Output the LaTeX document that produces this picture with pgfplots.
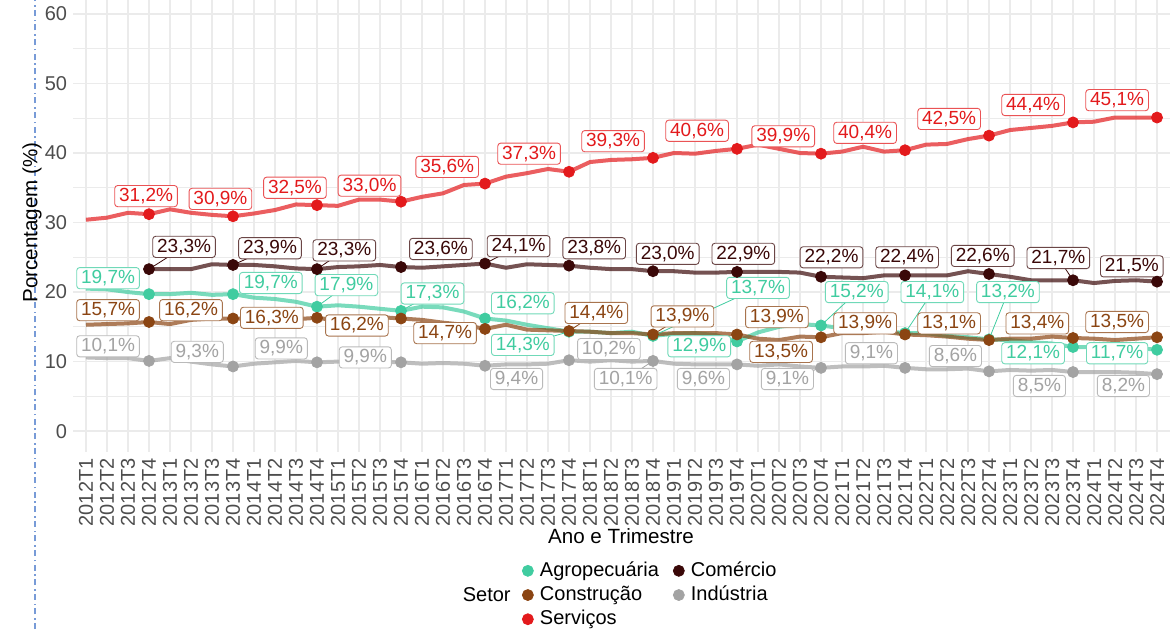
\documentclass[border=0pt]{standalone}
\usepackage{fontspec}
\setmainfont{Liberation Sans}
\usepackage{pgfplots}
\pgfplotsset{compat=1.18}

\definecolor{agro}{RGB}{64,204,160}
\definecolor{comercio}{RGB}{58,8,8}
\definecolor{construcao}{RGB}{139,69,19}
\definecolor{industria}{RGB}{163,163,163}
\definecolor{servicos}{RGB}{227,26,28}
\definecolor{gridc}{RGB}{235,235,235}
\definecolor{tickc}{RGB}{77,77,77}
\definecolor{blueline}{RGB}{120,155,215}

\tikzset{lab/.style={draw=#1!75, fill=white, text=#1, rounded corners=1.5pt,
  line width=0.45pt, inner xsep=2.2pt, inner ysep=1pt, text height=7pt, text depth=1.6pt,
  font=\fontsize{9.5}{10}\selectfont}}
\newcommand{\lab}[4]{\node[lab=#1] at (axis cs:#2,#3) {#4\%};}
\newcommand{\seg}[5]{\draw[#1, line width=0.4pt] (axis cs:#2,#3) -- (axis cs:#4,#5);}

\begin{document}
\begin{tikzpicture}
\useasboundingbox (-36.7pt,-88.5pt) rectangle (548.3pt,226pt);
\draw[blueline, line width=1pt, dash pattern=on 3pt off 1.6pt on 0.8pt off 1.9pt] (-19.2pt,-88.5pt) -- (-19.2pt,226pt);
\begin{axis}[
  at={(0pt,0pt)}, anchor=south west, scale only axis,
  width=548.1pt, height=226pt,
  xmin=-0.6, xmax=51.6, ymin=-3, ymax=62,
  clip=false,
  axis line style={draw=none},
  major tick length=0pt, minor tick length=0pt,
  xtick={0,...,51},
  xticklabels={2012T1,2012T2,2012T3,2012T4,2013T1,2013T2,2013T3,2013T4,
    2014T1,2014T2,2014T3,2014T4,2015T1,2015T2,2015T3,2015T4,
    2016T1,2016T2,2016T3,2016T4,2017T1,2017T2,2017T3,2017T4,
    2018T1,2018T2,2018T3,2018T4,2019T1,2019T2,2019T3,2019T4,
    2020T1,2020T2,2020T3,2020T4,2021T1,2021T2,2021T3,2021T4,
    2022T1,2022T2,2022T3,2022T4,2023T1,2023T2,2023T3,2023T4,
    2024T1,2024T2,2024T3,2024T4},
  ytick={0,10,...,60},
  minor ytick={5,15,...,55},
  xmajorgrids, ymajorgrids, yminorgrids,
  major grid style={gridc, line width=0.7pt},
  minor grid style={gridc, line width=0.45pt},
  /pgf/number format/assume math mode=true,
  xticklabel style={yshift=-3pt, rotate=90, anchor=east, inner sep=0pt, text depth=0pt,
    text=tickc, font=\fontsize{10}{12}\selectfont},
  yticklabel style={xshift=-3pt, anchor=east, inner sep=0pt,
    text=tickc, font=\fontsize{10}{12}\selectfont},
  legend columns=2,
  legend cell align=left,
  legend image code/.code={\draw[mark repeat=2,mark phase=2,#1] plot coordinates {(-3pt,0pt) (0pt,0pt) (3pt,0pt)};},
  legend style={at={(0.4092,-0.3164)}, anchor=west, draw=none, fill=none,
    inner sep=0pt, row sep=2.6pt, font=\fontsize{10}{12}\selectfont,
    nodes={inner xsep=3.3pt, inner ysep=0pt, text height=7.4pt, text depth=2.1pt},
    /tikz/every even column/.append style={column sep=3.9pt}},
]
% lines
\addplot[forget plot, agro, line width=2pt, opacity=0.7] coordinates {
(0,20.5)(1,20.4)(2,20.0)(3,19.7)(4,19.7)(5,19.9)(6,19.6)(7,19.7)(8,19.2)(9,19.0)(10,18.6)(11,17.9)
(12,18.1)(13,17.9)(14,17.6)(15,17.3)(16,17.9)(17,17.8)(18,17.2)(19,16.2)(20,15.9)(21,15.3)(22,14.8)(23,14.3)
(24,14.3)(25,14.1)(26,14.3)(27,13.7)(28,14.0)(29,14.1)(30,13.8)(31,12.9)(32,14.2)(33,15.0)(34,15.4)(35,15.2)
(36,14.8)(37,14.5)(38,14.4)(39,14.1)(40,14.1)(41,13.7)(42,13.5)(43,13.2)(44,13.1)(45,12.8)(46,12.6)(47,12.1)
(48,12.1)(49,12.2)(50,12.0)(51,11.7)};
\addplot[forget plot, comercio, line width=2pt, opacity=0.7] coordinates {
(3,23.3)(4,23.3)(5,23.3)(6,24.0)(7,23.9)(8,23.9)(9,23.7)(10,23.4)(11,23.3)
(12,23.6)(13,23.7)(14,23.9)(15,23.6)(16,23.5)(17,23.7)(18,23.9)(19,24.1)(20,23.5)(21,24.0)(22,23.9)(23,23.8)
(24,23.5)(25,23.3)(26,23.3)(27,23.0)(28,23.0)(29,22.8)(30,22.8)(31,22.9)(32,22.9)(33,22.9)(34,22.8)(35,22.2)
(36,22.1)(37,22.0)(38,22.4)(39,22.4)(40,22.4)(41,22.4)(42,23.0)(43,22.6)(44,22.2)(45,21.7)(46,21.7)(47,21.7)
(48,21.3)(49,21.6)(50,21.7)(51,21.5)};
\addplot[forget plot, construcao, line width=2pt, opacity=0.7] coordinates {
(0,15.3)(1,15.4)(2,15.5)(3,15.7)(4,15.4)(5,16.0)(6,16.2)(7,16.2)(8,16.1)(9,16.1)(10,16.1)(11,16.3)
(12,15.9)(13,16.2)(14,16.4)(15,16.2)(16,16.0)(17,15.6)(18,15.3)(19,14.7)(20,15.3)(21,14.6)(22,14.5)(23,14.4)
(24,14.3)(25,14.1)(26,14.1)(27,13.9)(28,14.1)(29,14.1)(30,14.1)(31,13.9)(32,13.3)(33,13.1)(34,13.6)(35,13.5)
(36,14.1)(37,14.1)(38,14.3)(39,13.9)(40,13.8)(41,13.6)(42,13.3)(43,13.1)(44,13.3)(45,13.3)(46,13.6)(47,13.4)
(48,13.3)(49,13.1)(50,13.3)(51,13.5)};
\addplot[forget plot, industria, line width=2pt, opacity=0.7] coordinates {
(0,10.6)(1,10.5)(2,10.5)(3,10.1)(4,10.5)(5,10.0)(6,9.6)(7,9.3)(8,9.7)(9,9.9)(10,10.1)(11,9.9)
(12,10.0)(13,9.9)(14,10.0)(15,9.9)(16,9.7)(17,9.8)(18,9.7)(19,9.4)(20,9.6)(21,9.6)(22,9.7)(23,10.2)
(24,10.0)(25,10.2)(26,10.0)(27,10.1)(28,9.7)(29,9.6)(30,9.6)(31,9.6)(32,9.4)(33,9.6)(34,9.3)(35,9.1)
(36,9.3)(37,9.3)(38,9.4)(39,9.1)(40,8.9)(41,8.9)(42,9.0)(43,8.6)(44,8.8)(45,8.7)(46,8.8)(47,8.5)
(48,8.5)(49,8.5)(50,8.4)(51,8.2)};
\addplot[forget plot, servicos, line width=2pt, opacity=0.7] coordinates {
(0,30.4)(1,30.7)(2,31.4)(3,31.2)(4,31.9)(5,31.4)(6,31.1)(7,30.9)(8,31.3)(9,31.8)(10,32.6)(11,32.5)
(12,32.4)(13,33.3)(14,33.3)(15,33.0)(16,33.7)(17,34.2)(18,35.4)(19,35.6)(20,36.6)(21,37.1)(22,37.7)(23,37.3)
(24,38.7)(25,39.0)(26,39.1)(27,39.3)(28,40.0)(29,39.9)(30,40.3)(31,40.6)(32,41.2)(33,40.6)(34,40.0)(35,39.9)
(36,40.2)(37,40.9)(38,40.2)(39,40.4)(40,41.2)(41,41.3)(42,42.0)(43,42.5)(44,43.3)(45,43.6)(46,43.9)(47,44.4)
(48,44.5)(49,45.1)(50,45.1)(51,45.1)};
% fourth-quarter points
\addplot[only marks, mark=*, mark size=2.75pt, agro] coordinates {
(3,19.7)(7,19.7)(11,17.9)(15,17.3)(19,16.2)(23,14.3)(27,13.7)(31,12.9)(35,15.2)(39,14.1)(43,13.2)(47,12.1)(51,11.7)};
\addlegendentry{Agropecuária}
\addplot[only marks, mark=*, mark size=2.75pt, comercio] coordinates {
(3,23.3)(7,23.9)(11,23.3)(15,23.6)(19,24.1)(23,23.8)(27,23.0)(31,22.9)(35,22.2)(39,22.4)(43,22.6)(47,21.7)(51,21.5)};
\addlegendentry{Comércio}
\addplot[only marks, mark=*, mark size=2.75pt, construcao] coordinates {
(3,15.7)(7,16.2)(11,16.3)(15,16.2)(19,14.7)(23,14.4)(27,13.9)(31,13.9)(35,13.5)(39,13.9)(43,13.1)(47,13.4)(51,13.5)};
\addlegendentry{Construção}
\addplot[only marks, mark=*, mark size=2.75pt, industria] coordinates {
(3,10.1)(7,9.3)(11,9.9)(15,9.9)(19,9.4)(23,10.2)(27,10.1)(31,9.6)(35,9.1)(39,9.1)(43,8.6)(47,8.5)(51,8.2)};
\addlegendentry{Indústria}
\addplot[only marks, mark=*, mark size=2.75pt, servicos] coordinates {
(3,31.2)(7,30.9)(11,32.5)(15,33.0)(19,35.6)(23,37.3)(27,39.3)(31,40.6)(35,39.9)(39,40.4)(43,42.5)(47,44.4)(51,45.1)};
\addlegendentry{Serviços}
% connectors
\seg{comercio}{3}{23.3}{4.67}{26.5}
\seg{comercio}{7}{23.9}{8.76}{26.3}
\seg{comercio}{11}{23.3}{12.3}{26.0}
\seg{comercio}{19}{24.1}{20.6}{26.6}
\seg{comercio}{47}{21.7}{46.3}{24.9}
\seg{agro}{11}{17.9}{12.4}{21.0}
\seg{agro}{15}{17.3}{16.5}{19.8}
\seg{agro}{23}{14.3}{20.8}{12.4}
\seg{agro}{27}{13.7}{32.0}{20.6}
\seg{agro}{35}{15.2}{36.7}{20.0}
\seg{agro}{39}{14.1}{40.3}{20.0}
\seg{agro}{43}{13.2}{43.9}{20.0}
\seg{construcao}{23}{14.4}{24.3}{17.0}
\seg{construcao}{27}{13.9}{28.4}{16.5}
\seg{industria}{27}{10.1}{25.7}{7.5}
\seg{industria}{35}{9.1}{33.4}{7.5}
% labels
\lab{agro}{1.05}{22.0}{19,7}
\lab{agro}{8.8}{21.3}{19,7}
\lab{agro}{12.4}{21.0}{17,9}
\lab{agro}{16.5}{19.8}{17,3}
\lab{agro}{20.8}{18.4}{16,2}
\lab{agro}{20.8}{12.4}{14,3}
\lab{agro}{32.0}{20.6}{13,7}
\lab{agro}{29.2}{12.2}{12,9}
\lab{agro}{36.7}{20.0}{15,2}
\lab{agro}{40.3}{20.0}{14,1}
\lab{agro}{43.9}{20.0}{13,2}
\lab{agro}{45.1}{11.2}{12,1}
\lab{agro}{49.1}{11.2}{11,7}
\lab{comercio}{4.67}{26.5}{23,3}
\lab{comercio}{8.76}{26.3}{23,9}
\lab{comercio}{12.3}{26.0}{23,3}
\lab{comercio}{16.9}{26.2}{23,6}
\lab{comercio}{20.6}{26.6}{24,1}
\lab{comercio}{24.2}{26.3}{23,8}
\lab{comercio}{27.7}{25.5}{23,0}
\lab{comercio}{31.3}{25.5}{22,9}
\lab{comercio}{35.5}{25.0}{22,2}
\lab{comercio}{39.1}{25.0}{22,4}
\lab{comercio}{42.7}{25.2}{22,6}
\lab{comercio}{46.3}{24.9}{21,7}
\lab{comercio}{49.8}{23.7}{21,5}
\lab{construcao}{1.05}{17.4}{15,7}
\lab{construcao}{5.0}{17.4}{16,2}
\lab{construcao}{8.85}{16.3}{16,3}
\lab{construcao}{12.9}{15.2}{16,2}
\lab{construcao}{17.1}{14.1}{14,7}
\lab{construcao}{24.3}{17.0}{14,4}
\lab{construcao}{28.4}{16.5}{13,9}
\lab{construcao}{32.9}{16.4}{13,9}
\lab{construcao}{33.1}{11.4}{13,5}
\lab{construcao}{37.1}{15.5}{13,9}
\lab{construcao}{41.1}{15.5}{13,1}
\lab{construcao}{45.3}{15.5}{13,4}
\lab{construcao}{49.1}{15.7}{13,5}
\lab{industria}{1.05}{12.2}{10,1}
\lab{industria}{5.3}{11.4}{9,3}
\lab{industria}{9.3}{11.9}{9,9}
\lab{industria}{13.3}{10.6}{9,9}
\lab{industria}{20.5}{7.5}{9,4}
\lab{industria}{24.9}{11.8}{10,2}
\lab{industria}{25.7}{7.5}{10,1}
\lab{industria}{29.4}{7.5}{9,6}
\lab{industria}{33.4}{7.5}{9,1}
\lab{industria}{37.4}{11.2}{9,1}
\lab{industria}{41.4}{10.8}{8,6}
\lab{industria}{45.4}{6.5}{8,5}
\lab{industria}{49.4}{6.5}{8,2}
\lab{servicos}{2.86}{33.8}{31,2}
\lab{servicos}{6.4}{33.4}{30,9}
\lab{servicos}{9.95}{35.0}{32,5}
\lab{servicos}{13.5}{35.3}{33,0}
\lab{servicos}{17.2}{38.0}{35,6}
\lab{servicos}{21.1}{39.9}{37,3}
\lab{servicos}{25.1}{41.7}{39,3}
\lab{servicos}{29.1}{43.2}{40,6}
\lab{servicos}{33.2}{42.4}{39,9}
\lab{servicos}{37.1}{42.9}{40,4}
\lab{servicos}{41.1}{44.9}{42,5}
\lab{servicos}{45.1}{46.9}{44,4}
\lab{servicos}{49.1}{47.6}{45,1}
\end{axis}
\node[rotate=90, font=\fontsize{10.3}{12}\selectfont] at (-20.7pt,114.75pt) {Porcentagem (\%)};
\node[font=\fontsize{10.3}{12}\selectfont] at (273.8pt,-42pt) {Ano e Trimestre};
\node[anchor=east, inner sep=0pt, font=\fontsize{10}{12}\selectfont] at (218.8pt,-71.5pt) {Setor};
\end{tikzpicture}
\end{document}
